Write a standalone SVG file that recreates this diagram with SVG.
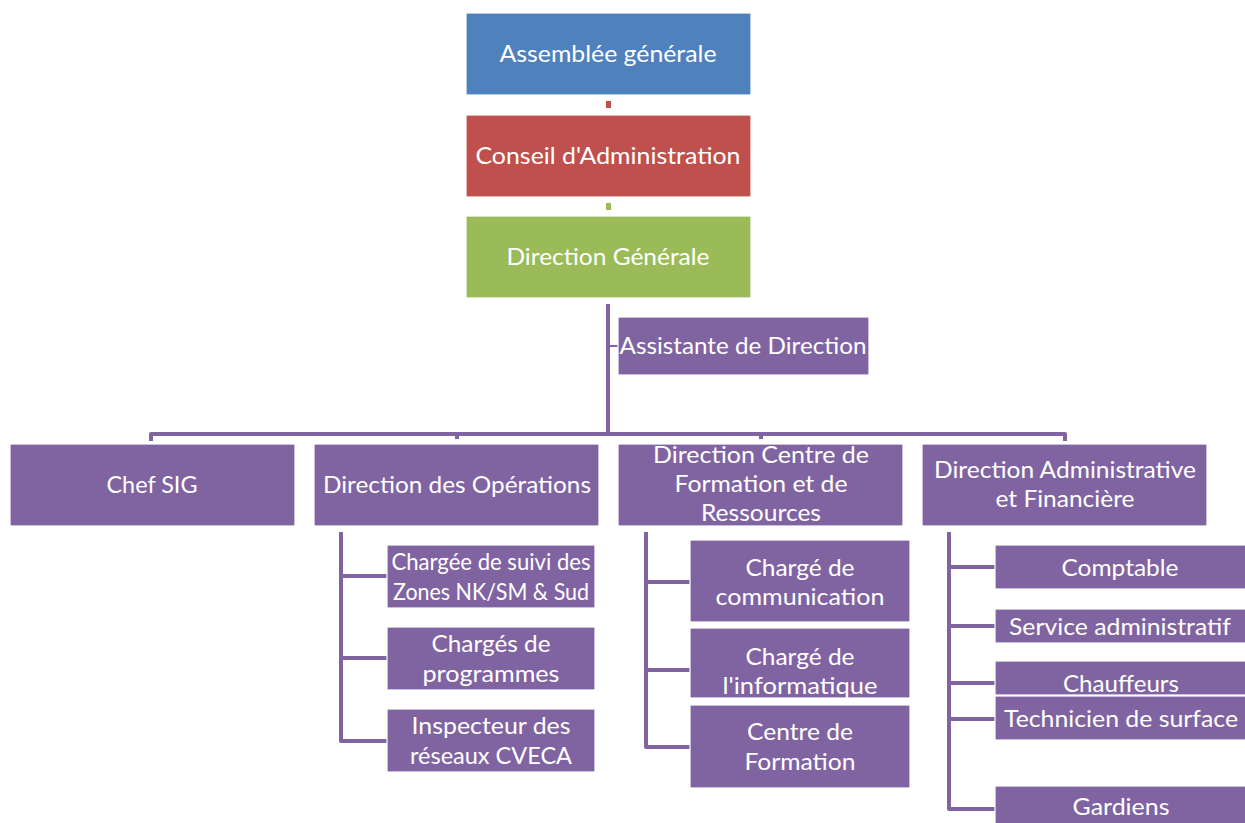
<svg xmlns="http://www.w3.org/2000/svg" width="1245" height="823" viewBox="0 0 1245 823">
<style>
.b{stroke:#fff;stroke-width:1.2}
.blue{fill:#4F81BD}.red{fill:#C0504D}.green{fill:#9BBB59}.pur{fill:#8064A2}
text{font-family:Lato,"Liberation Sans",sans-serif;font-size:24px;fill:#fff;text-anchor:middle}
.c{fill:none;stroke:#8064A2;stroke-width:4;stroke-linejoin:round}
</style>
<rect width="1245" height="823" fill="#fff"/>
<g id="connectors">
<rect x="606" y="101" width="5" height="7" fill="#C0504D"/>
<rect x="606" y="203" width="5" height="7" fill="#9BBB59"/>
<line class="c" x1="608" y1="304" x2="608" y2="434"/>
<line x1="608" y1="346" x2="619" y2="346" stroke="#8064A2" stroke-width="2"/>
<path class="c" d="M151,441 V434 H1065 V441"/>
<line class="c" x1="457" y1="434" x2="457" y2="439"/>
<line class="c" x1="761" y1="434" x2="761" y2="439"/>
<path class="c" d="M341,532 V741 H387 M341,576 H387 M341,658 H387"/>
<path class="c" d="M646,532 V747 H690 M646,582 H690 M646,670 H690"/>
<path class="c" d="M949,532 V809 H995 M949,567 H995 M949,626 H995 M949,683 H995 M949,719 H995"/>
</g>
<g id="n-ag"><rect class="b blue" x="466" y="13" width="285" height="82"/><text x="608" y="62" textLength="217" lengthAdjust="spacingAndGlyphs">Assemblée générale</text></g>
<g id="n-ca"><rect class="b red" x="466" y="115" width="285" height="82"/><text x="608" y="164" textLength="265" lengthAdjust="spacingAndGlyphs">Conseil d'Administration</text></g>
<g id="n-dg"><rect class="b green" x="466" y="216" width="285" height="82"/><text x="608" y="265" textLength="203" lengthAdjust="spacingAndGlyphs">Direction Générale</text></g>
<g id="n-ad"><rect class="b pur" x="618" y="317" width="251" height="58"/><text x="743" y="354" textLength="247" lengthAdjust="spacingAndGlyphs">Assistante de Direction</text></g>
<g id="n-sig"><rect class="b pur" x="10" y="444" width="285" height="82"/><text x="152" y="493" textLength="91" lengthAdjust="spacingAndGlyphs">Chef SIG</text></g>
<g id="n-op"><rect class="b pur" x="314" y="444" width="285" height="82"/><text x="457" y="493" textLength="268" lengthAdjust="spacingAndGlyphs">Direction des Opérations</text></g>
<g id="n-cfr"><rect class="b pur" x="618" y="444" width="285" height="82"/>
<text x="761" y="463" textLength="216" lengthAdjust="spacingAndGlyphs">Direction Centre  de</text>
<text x="761" y="492" textLength="173" lengthAdjust="spacingAndGlyphs">Formation et de</text>
<text x="761" y="521" textLength="120" lengthAdjust="spacingAndGlyphs">Ressources</text></g>
<g id="n-daf"><rect class="b pur" x="922" y="444" width="285" height="82"/>
<text x="1065" y="478" textLength="262" lengthAdjust="spacingAndGlyphs">Direction Administrative</text>
<text x="1065" y="507" textLength="139" lengthAdjust="spacingAndGlyphs">et Financière</text></g>
<g id="n-suivi"><rect class="b pur" x="387" y="545" width="208" height="63"/>
<text x="491" y="570" textLength="199" lengthAdjust="spacingAndGlyphs">Chargée de suivi des</text>
<text x="491" y="600" textLength="196" lengthAdjust="spacingAndGlyphs">Zones NK/SM &amp; Sud</text></g>
<g id="n-prog"><rect class="b pur" x="387" y="627" width="208" height="63"/>
<text x="491" y="652" textLength="119" lengthAdjust="spacingAndGlyphs">Chargés de</text>
<text x="491" y="682" textLength="137" lengthAdjust="spacingAndGlyphs">programmes</text></g>
<g id="n-insp"><rect class="b pur" x="387" y="709" width="208" height="63"/>
<text x="491" y="734" textLength="159" lengthAdjust="spacingAndGlyphs">Inspecteur des</text>
<text x="491" y="764" textLength="162" lengthAdjust="spacingAndGlyphs">réseaux CVECA</text></g>
<g id="n-comm"><rect class="b pur" x="690" y="540" width="220" height="82"/>
<text x="800" y="576" textLength="109" lengthAdjust="spacingAndGlyphs">Chargé de</text>
<text x="800" y="605" textLength="169" lengthAdjust="spacingAndGlyphs">communication</text></g>
<g id="n-info"><rect class="b pur" x="690" y="628" width="220" height="70"/>
<text x="800" y="665" textLength="109" lengthAdjust="spacingAndGlyphs">Chargé de</text>
<text x="800" y="694" textLength="155" lengthAdjust="spacingAndGlyphs">l'informatique</text></g>
<g id="n-cf"><rect class="b pur" x="690" y="705" width="220" height="83"/>
<text x="800" y="740" textLength="106" lengthAdjust="spacingAndGlyphs">Centre de</text>
<text x="800" y="770" textLength="111" lengthAdjust="spacingAndGlyphs">Formation</text></g>
<g id="n-compt"><rect class="b pur" x="995" y="545" width="252" height="44"/><text x="1120" y="576" textLength="117" lengthAdjust="spacingAndGlyphs">Comptable</text></g>
<g id="n-serv"><rect class="b pur" x="995" y="609" width="252" height="34"/><text x="1120" y="635" textLength="222" lengthAdjust="spacingAndGlyphs">Service administratif</text></g>
<g id="n-chauf"><rect class="b pur" x="995" y="661" width="252" height="34"/><text x="1121" y="692" textLength="116" lengthAdjust="spacingAndGlyphs">Chauffeurs</text></g>
<g id="n-tech"><rect class="b pur" x="995" y="696" width="252" height="44"/><text x="1121" y="727" textLength="234" lengthAdjust="spacingAndGlyphs">Technicien de surface</text></g>
<g id="n-gard"><rect class="b pur" x="995" y="786" width="252" height="40"/><text x="1121" y="815" textLength="97" lengthAdjust="spacingAndGlyphs">Gardiens</text></g>
</svg>
